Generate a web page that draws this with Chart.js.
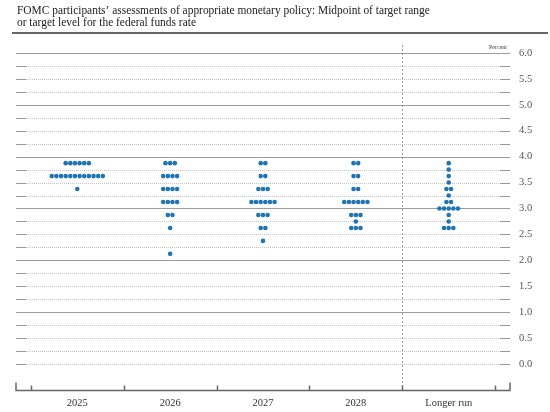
<!DOCTYPE html>
<html>
<head>
<meta charset="utf-8">
<title>FOMC dot plot</title>
<script src="https://cdn.jsdelivr.net/npm/chart.js@4.4.1/dist/chart.umd.min.js"></script>
<style>
    html, body { margin: 0; padding: 0; background: #fff; }
    #wrap { width: 550px; height: 412px; position: relative; }
</style>
</head>
<body>
<div id="wrap"><canvas id="dotPlot"></canvas></div>
<script>
// Chart data
const categories = ['2025', '2026', '2027', '2028', 'Longer run'];

const levels2025 = [3.875, 3.625, 3.375];
const counts2025 = [6, 12, 1];

const levels2026 = [3.875, 3.625, 3.375, 3.125, 2.875, 2.625, 2.125];
const counts2026 = [3, 4, 4, 4, 2, 1, 1];

const levels2027 = [3.875, 3.625, 3.375, 3.125, 2.875, 2.625, 2.375];
const counts2027 = [2, 2, 3, 6, 3, 2, 1];

const levels2028 = [3.875, 3.625, 3.375, 3.125, 2.875, 2.75, 2.625];
const counts2028 = [2, 2, 2, 6, 3, 1, 3];

const levelsLonger = [3.875, 3.75, 3.625, 3.5, 3.375, 3.25, 3.125, 3.0, 2.875, 2.75, 2.625];
const countsLonger = [1, 1, 1, 1, 2, 1, 2, 5, 1, 1, 3];

const yTickLabels = ['0.0', '0.5', '1.0', '1.5', '2.0', '2.5', '3.0', '3.5', '4.0', '4.5', '5.0', '5.5', '6.0'];

const titleLines = [
    'FOMC participants\u2019 assessments of appropriate monetary policy: Midpoint of target range',
    'or target level for the federal funds rate'
];
const unitLabel = 'Percent';

const SERIF = '"Liberation Serif", "DejaVu Serif", serif';
const DOT_STEP = 0.05;      // horizontal gap between dots, in category units
const DOT_COLOR = '#1f74b4';

function buildDots(catIndex, levels, counts) {
    const pts = [];
    levels.forEach((lv, r) => {
        const n = counts[r];
        for (let j = 0; j < n; j++) {
            pts.push({ x: catIndex + (j - (n - 1) / 2) * DOT_STEP, y: lv });
        }
    });
    return pts;
}

const allDots = [].concat(
    buildDots(0, levels2025, counts2025),
    buildDots(1, levels2026, counts2026),
    buildDots(2, levels2027, counts2027),
    buildDots(3, levels2028, counts2028),
    buildDots(4, levelsLonger, countsLonger)
);

// gridlines, axis, title - drawn from the scales
const decorPlugin = {
    id: 'fomcDecor',
    beforeDatasetsDraw(chart) {
        const { ctx, chartArea, scales } = chart;
        const ys = scales.y, xs = scales.x;
        const L = chartArea.left, R = chartArea.right;

        ctx.save();
        for (let q = 0; q <= 24; q++) {
            const v = q / 4;
            const py = Math.round(ys.getPixelForValue(v)) + 0.5;
            if (v > 0 && Number.isInteger(v)) {
                ctx.strokeStyle = '#9c9c9c';
                ctx.lineWidth = 1;
                ctx.setLineDash([]);
                ctx.beginPath(); ctx.moveTo(L, py); ctx.lineTo(R, py); ctx.stroke();
            } else {
                ctx.strokeStyle = '#999';
                ctx.lineWidth = 1;
                ctx.setLineDash([]);
                ctx.beginPath();
                ctx.moveTo(L, py); ctx.lineTo(L + 10, py);
                ctx.moveTo(R - 10, py); ctx.lineTo(R, py);
                ctx.stroke();
                ctx.strokeStyle = '#c4c4c4';
                ctx.setLineDash([1, 1]);
                ctx.beginPath(); ctx.moveTo(L + 10, py); ctx.lineTo(R - 10, py); ctx.stroke();
            }
        }

        // separator before "Longer run"
        const sx = Math.round(xs.getPixelForValue(3.5)) + 0.5;
        ctx.strokeStyle = '#9a9a9a';
        ctx.setLineDash([2, 2]);
        ctx.beginPath(); ctx.moveTo(sx, chartArea.top); ctx.lineTo(sx, chartArea.bottom); ctx.stroke();

        // bottom axis with upward ticks
        ctx.setLineDash([]);
        ctx.strokeStyle = '#666';
        ctx.lineWidth = 1.5;
        const by = chartArea.bottom - 0.5;
        ctx.beginPath();
        ctx.moveTo(L, by - 8); ctx.lineTo(L, by); ctx.lineTo(R, by); ctx.lineTo(R, by - 8);
        for (let b = -0.5; b <= 4.5; b += 1) {
            const bx = Math.round(xs.getPixelForValue(b)) + 0.5;
            ctx.moveTo(bx, by); ctx.lineTo(bx, by - 5);
        }
        ctx.stroke();
        ctx.restore();
    },
    afterDraw(chart) {
        const { ctx, chartArea } = chart;
        ctx.save();
        // fit title to its width in the reference
        ctx.font = '12px ' + SERIF;
        const w = ctx.measureText(titleLines[0]).width;
        const size = 12 * 413 / w;
        ctx.font = size.toFixed(2) + 'px ' + SERIF;
        ctx.fillStyle = '#222';
        ctx.textBaseline = 'alphabetic';
        ctx.textAlign = 'left';
        ctx.fillText(titleLines[0], 17, 14);
        ctx.fillText(titleLines[1], 17, 25.5);

        ctx.strokeStyle = '#333';
        ctx.lineWidth = 1.6;
        ctx.beginPath(); ctx.moveTo(12, 33); ctx.lineTo(548, 33); ctx.stroke();

        ctx.font = '6px ' + SERIF;
        ctx.fillStyle = '#444';
        ctx.textAlign = 'right';
        ctx.fillText(unitLabel, chartArea.right - 3, 49);
        ctx.restore();
    }
};

new Chart(document.getElementById('dotPlot'), {
    type: 'scatter',
    data: {
        datasets: [{
            label: 'Participants',
            data: allDots,
            pointRadius: 2.3,
            pointHoverRadius: 2.3,
            pointBackgroundColor: DOT_COLOR,
            pointBorderWidth: 0,
            borderColor: DOT_COLOR
        }]
    },
    options: {
        responsive: true,
        maintainAspectRatio: false,
        animation: false,
        layout: { padding: { top: 45, left: 16, right: 0, bottom: 0 } },
        plugins: {
            legend: { display: false },
            tooltip: { enabled: false },
            title: { display: false }
        },
        scales: {
            x: {
                type: 'linear',
                position: 'bottom',
                min: -0.66,
                max: 4.66,
                grid: { display: false, drawTicks: false },
                border: { display: false },
                afterFit(scale) { scale.height = 21; },
                ticks: {
                    stepSize: 1,
                    includeBounds: false,
                    autoSkip: false,
                    maxRotation: 0,
                    padding: 6,
                    color: '#333',
                    font: { family: SERIF, size: 10.5 },
                    callback: (v) => categories[v] ?? ''
                }
            },
            y: {
                type: 'linear',
                position: 'right',
                min: -0.521,
                max: 6.154,
                grid: { display: false, drawTicks: false },
                border: { display: false },
                afterFit(scale) { scale.width = 40; },
                ticks: {
                    stepSize: 0.5,
                    includeBounds: false,
                    autoSkip: false,
                    padding: 9,
                    color: '#555',
                    font: { family: SERIF, size: 10.5 },
                    callback: (v) => v < 0 ? '' : (yTickLabels[Math.round(v * 2)] ?? '')
                }
            }
        }
    },
    plugins: [decorPlugin]
});
</script>
</body>
</html>
